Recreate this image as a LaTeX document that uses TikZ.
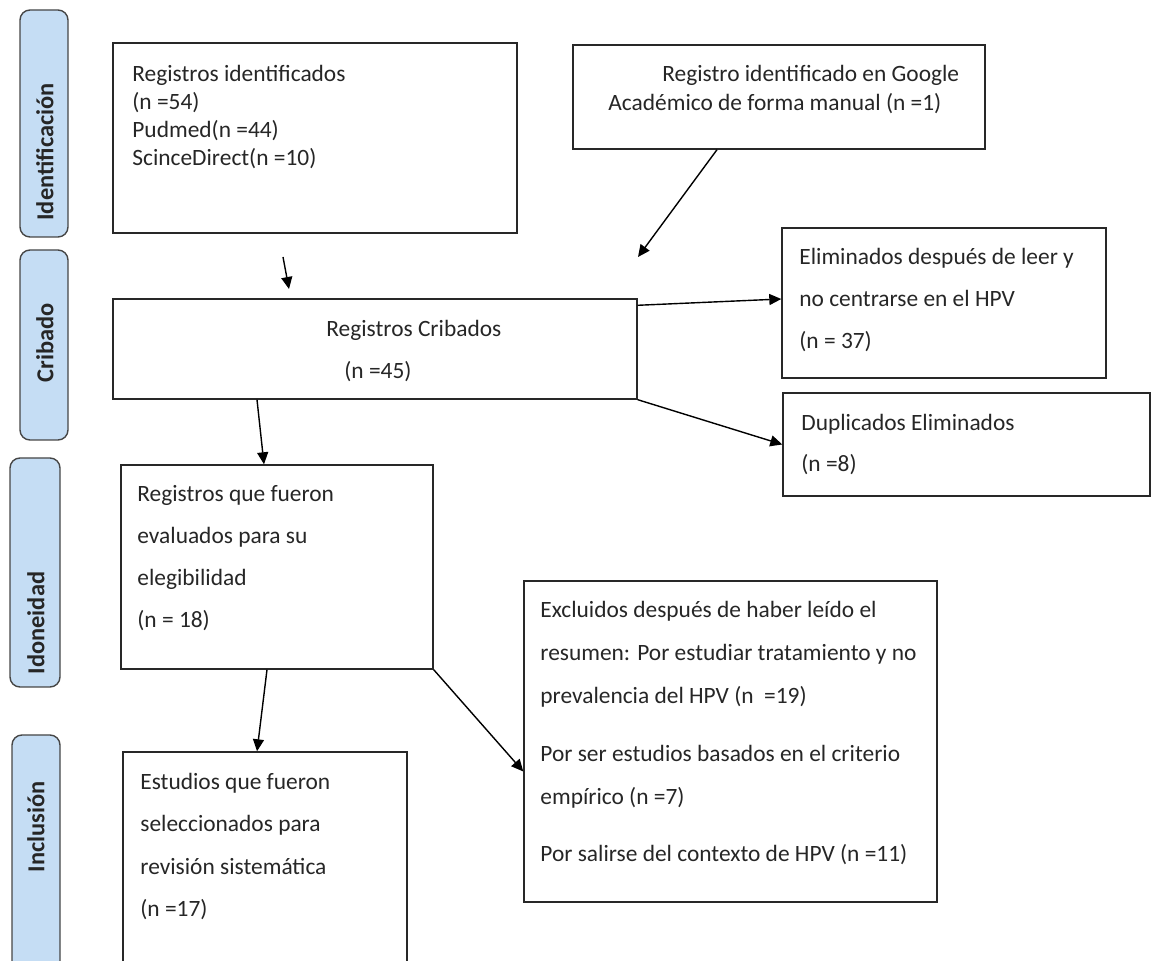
\documentclass[tikz,border=0pt]{standalone}
\usepackage{fontspec}
\setmainfont{Carlito}
\usetikzlibrary{arrows.meta}
\definecolor{tabblue}{RGB}{197,221,244}
\definecolor{tabline}{RGB}{70,70,70}
\definecolor{boxline}{RGB}{40,40,40}
\begin{document}
\begin{tikzpicture}[x=0.5pt,y=-0.5pt,
    box/.style={rectangle,draw=boxline,line width=0.7pt,inner sep=0pt},
    tab/.style={rectangle,rounded corners=5pt,draw=tabline,fill=tabblue,line width=0.7pt,rotate=90,minimum height=24pt},
    tablabel/.style={rotate=90,inner sep=0pt,font=\fontsize{12.2}{14}\selectfont\bfseries,text=black!85},
    txt/.style={anchor=base west,align=left,inner sep=0pt,font=\fontsize{11.7}{21}\selectfont,text=black!85},
    arr/.style={-{Triangle[length=6pt,width=5.5pt]},line width=0.7pt}]
  \clip (0,0) rectangle (1153,961);
  % side tabs
  \node[tab,minimum width=113.5pt] (tabid) at (44,123.5) {};
  \node[tab,minimum width=95pt] (tabcrib) at (44,345) {};
  \node[tab,minimum width=114.5pt,minimum height=25pt] (tabidon) at (35,572.5) {};
  \node[tab,minimum width=125pt] (tabincl) at (36,860) {};
  \node[tablabel] (labid) at (45,152) {Identificación};
  \node[tablabel] (labcrib) at (45,343) {Cribado};
  \node[tablabel] (labidon) at (36,623) {Idoneidad};
  \node[tablabel] (labincl) at (36,827) {Inclusión};
  % boxes
  \node[box,minimum width=202pt,minimum height=95pt] (ident) at (315,138) {};
  \node[box,minimum width=206pt,minimum height=52pt] (google) at (779,97) {};
  \node[box,minimum width=262pt,minimum height=50pt] (cribados) at (375,349) {};
  \node[box,minimum width=162pt,minimum height=75pt] (elim) at (944,303) {};
  \node[box,minimum width=183.5pt,minimum height=51.5pt] (dup) at (966.5,444.5) {};
  \node[box,minimum width=156pt,minimum height=102pt] (idon) at (277,567) {};
  \node[box,minimum width=206.5pt,minimum height=160.5pt] (excl) at (730.5,741.5) {};
  \node[box,minimum width=142pt,minimum height=124pt] (incl) at (265,876) {};
  % texts
  \node[txt,font=\fontsize{11.7}{14}\selectfont] (identtxt) at (132,166)
    {Registros identificados\\(n =54)\\Pudmed(n =44)\\ScinceDirect(n =10)};
  \node[txt,font=\fontsize{11.7}{14.5}\selectfont] (googletxt) at (608,111)
    {\hspace*{27pt}Registro identificado en Google\\Académico de forma manual (n =1)};
  \node[txt] (cribadostxt) at (326,379) {Registros Cribados\\\hspace*{9pt}(n =45)};
  \node[txt] (elimtxt) at (799,349) {Eliminados después de leer y\\no centrarse en el HPV\\(n = 37)};
  \node[txt,font=\fontsize{11.7}{20.5}\selectfont] (duptxt) at (801,472) {Duplicados Eliminados\\(n =8)};
  \node[txt] (idontxt) at (137,628)
    {Registros que fueron\\evaluados para su\\elegibilidad\\(n = 18)};
  \node[txt,font=\fontsize{11.7}{21.5}\selectfont] (excltxt) at (540,862)
    {Excluidos después de haber leído el\\resumen: Por estudiar tratamiento y no\\prevalencia del HPV (n \ =19)\\[7.5pt]Por ser estudios basados en el criterio\\empírico (n =7)\\[7pt]Por salirse del contexto de HPV (n =11)};
  \node[txt,font=\fontsize{11.7}{21.3}\selectfont] (incltxt) at (140,917)
    {Estudios que fueron\\seleccionados para\\revisión sistemática\\(n =17)};
  % connectors
  \coordinate (identend) at (283,257);
  \coordinate (cribin) at (289,289);
  \coordinate (googleend) at (638,257);
  \draw[arr] (identend) -- (cribin);
  \draw[arr] ([xshift=-31pt]google.south) -- (googleend);
  \draw[arr] ([yshift=-3.5pt]cribados.north east) -- ([yshift=2pt]elim.west);
  \draw[arr] (cribados.south east) -- (dup.west);
  \draw[arr] ([xshift=-59pt]cribados.south) -- ([xshift=-6.5pt]idon.north);
  \draw[arr] ([xshift=-5pt]idon.south) -- ([xshift=-4pt]incl.north);
  \draw[arr] (idon.south east) -- ([yshift=-15pt]excl.west);
\end{tikzpicture}
\end{document}
